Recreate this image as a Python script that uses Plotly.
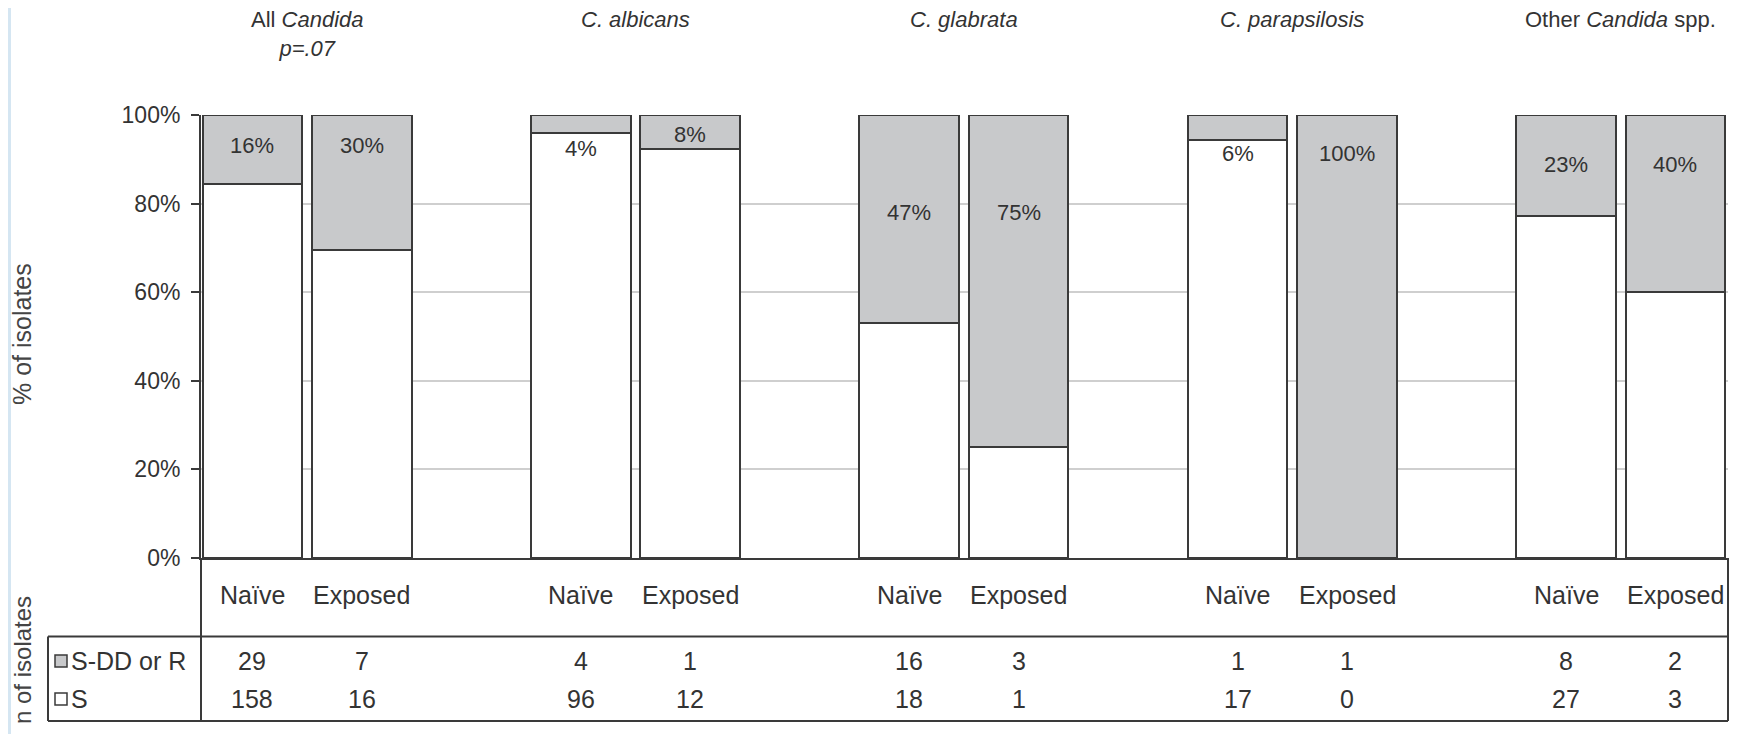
import plotly.graph_objects as go

# ---------------- data ----------------
group_titles = ["All <i>Candida</i><br><i>p=.07</i>", "<i>C. albicans</i>", "<i>C. glabrata</i>",
                "<i>C. parapsilosis</i>", "Other <i>Candida</i> spp."]
exposure = ["Naïve", "Exposed"]
resistant_counts = [29, 7, 4, 1, 16, 3, 1, 1, 8, 2]       # S-DD or R
susceptible_counts = [158, 16, 96, 12, 18, 1, 17, 0, 27, 3]  # S
row_labels = ["S-DD or R", "S"]
# vertical position (in % of axis) of the percentage labels, as placed in the figure
label_pos = [93.2, 93.2, 92.5, 95.7, 77.9, 77.9, 91.4, 91.4, 88.9, 88.9]

# ---------------- derived ----------------
n_bars = len(resistant_counts)
xpos = [(i // 2) * 3 + (i % 2) for i in range(n_bars)]
totals = [r + s for r, s in zip(resistant_counts, susceptible_counts)]
pct_r = [100 * r / t for r, t in zip(resistant_counts, totals)]
pct_s = [100 * s / t for s, t in zip(susceptible_counts, totals)]
labels = [f"{round(p)}%" for p in pct_r]

FONT = "Liberation Sans, Arial, sans-serif"
TXT = "#333333"
EDGE = "#3a3a3a"
GRAY = "#c8c9cb"
FS = 23
FS_TAB = 25

# page has an 8px body margin: figure coordinates = page coordinates - 8
OFF = 8
W, H = 1744 - OFF, 734 - OFF
PLOT_L, PLOT_R, PLOT_T, PLOT_B = 201, 1728, 115, 558   # page pixels
ML, MT = PLOT_L - OFF, PLOT_T - OFF
MR = W - (PLOT_R - OFF)
MB = H - (PLOT_B - OFF)
PW, PH = PLOT_R - PLOT_L, PLOT_B - PLOT_T


def px(x):
    return (x - PLOT_L) / PW


def py(y):
    return (PLOT_B - y) / PH


fig = go.Figure()
fig.add_trace(go.Bar(x=xpos, y=pct_s, width=0.91, name="S",
                     marker=dict(color="white", line=dict(color=EDGE, width=2)),
                     hoverinfo="skip"))
fig.add_trace(go.Bar(x=xpos, y=pct_r, width=0.91, name="S-DD or R",
                     marker=dict(color=GRAY, line=dict(color=EDGE, width=2)),
                     hoverinfo="skip"))


def txt(x, y, text, xref="x", yref="paper", xanchor="center", yanchor="middle", size=FS,
        color=TXT, angle=0):
    return dict(x=x, y=y, xref=xref, yref=yref, text=text, showarrow=False,
                xanchor=xanchor, yanchor=yanchor, textangle=angle,
                font=dict(size=size, color=color, family=FONT))


ann = []
# percentage labels
for x, lab, yp in zip(xpos, labels, label_pos):
    ann.append(txt(x, yp, lab, yref="y", size=FS - 1))
# group titles
for g, title in enumerate(group_titles):
    ann.append(txt(g * 3 + 0.5, py(5), title, yanchor="top", size=FS - 1))
# table header row and counts
for i, x in enumerate(xpos):
    ann.append(txt(x, py(595), exposure[i % 2], size=FS_TAB))
    ann.append(txt(x, py(661), str(resistant_counts[i]), size=FS_TAB))
    ann.append(txt(x, py(699), str(susceptible_counts[i]), size=FS_TAB))
# row labels
for lab, yy in zip(row_labels, [661, 699]):
    ann.append(txt(px(69), py(yy), lab, xref="paper", xanchor="left", size=FS_TAB))
# axis titles
ann.append(txt(px(22), py(334), "% of isolates", xref="paper", size=25, color="#444", angle=-90))
ann.append(txt(px(22), py(660), "n of isolates", xref="paper", size=24, color="#444", angle=-90))

shapes = []
LW = 2


def hline(x0, x1, y):
    return dict(type="line", xref="paper", yref="paper", x0=px(x0), x1=px(x1),
                y0=py(y), y1=py(y), line=dict(color=EDGE, width=LW))


def vline(x, y0, y1):
    return dict(type="line", xref="paper", yref="paper", x0=px(x), x1=px(x),
                y0=py(y0), y1=py(y1), line=dict(color=EDGE, width=LW))


shapes += [hline(48, PLOT_R, 636.5), hline(48, PLOT_R, 721),
           vline(48, 636.5, 721), vline(PLOT_L, PLOT_B, 721), vline(PLOT_R, PLOT_B, 721)]
# legend squares in table
for col, yy in zip([GRAY, "white"], [661, 699]):
    shapes.append(dict(type="rect", xref="paper", yref="paper", x0=px(55), x1=px(67),
                       y0=py(yy + 6), y1=py(yy - 6), fillcolor=col,
                       line=dict(color=EDGE, width=1.5)))
# thin light-blue border at the left edge of the image
shapes.append(dict(type="line", xref="paper", yref="paper", x0=px(9.5), x1=px(9.5),
                   y0=py(8), y1=py(734), line=dict(color="#d5e6f2", width=3)))

fig.update_layout(
    width=W, height=H,
    margin=dict(l=ML, r=MR, t=MT, b=MB, pad=0),
    paper_bgcolor="white", plot_bgcolor="white",
    barmode="stack", bargap=0, showlegend=False,
    annotations=ann, shapes=shapes,
    font=dict(family=FONT, color=TXT),
    xaxis=dict(range=[-0.47, 13.48], showticklabels=False, ticks="", showgrid=False,
               zeroline=False, showline=True, linecolor=EDGE, linewidth=LW, fixedrange=True),
    yaxis=dict(range=[0, 100], tickvals=[0, 20, 40, 60, 80, 100],
               ticktext=["0%", "20%", "40%", "60%", "80%", "100%"],
               ticks="outside", ticklen=8, tickwidth=2, tickcolor=EDGE,
               ticklabelstandoff=6,
               tickfont=dict(size=FS, color=TXT, family=FONT),
               showgrid=True, gridcolor="#cfcfcf", gridwidth=1.5,
               zeroline=False, showline=True, linecolor=EDGE, linewidth=LW, fixedrange=True),
)

fig.write_html("out.html")
